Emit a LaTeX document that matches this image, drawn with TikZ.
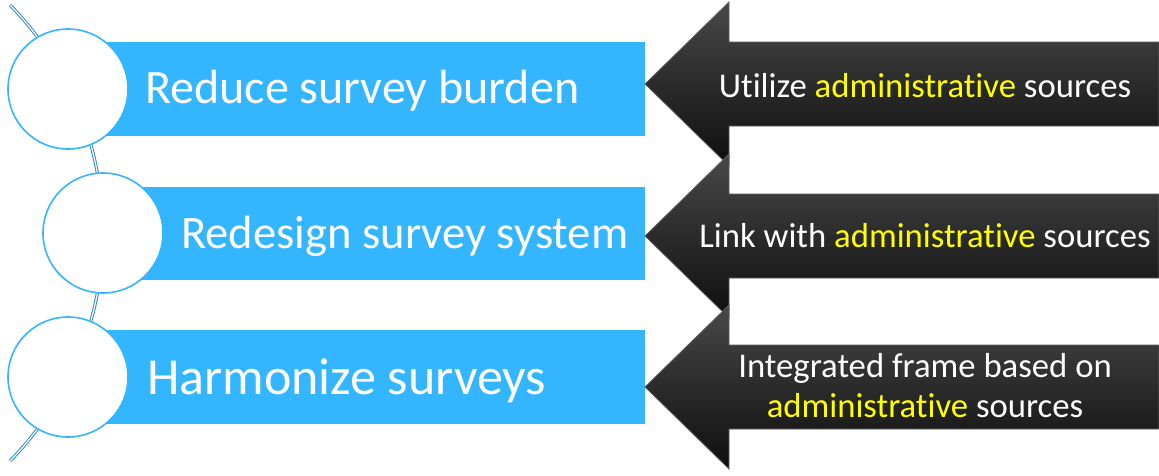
\documentclass[tikz,border=0pt]{standalone}
\usepackage{fontspec}
\setmainfont{Carlito}[Ligatures=NoCommon]
\definecolor{barblue}{RGB}{51,182,255}
\definecolor{arcblue}{RGB}{50,140,200}
\definecolor{hl}{RGB}{255,255,0}
\definecolor{atop}{RGB}{72,72,72}
\definecolor{abot}{RGB}{14,14,14}
\definecolor{aedge}{RGB}{95,95,95}
\newcommand\adm{\textcolor{hl}{administrative}}
\tikzset{
  bluebar/.style={fill=barblue, draw=none},
  ring/.style={circle, draw=barblue, line width=1.6pt, fill=white, minimum size=120pt, inner sep=0pt},
  darrow/.style={top color=atop, bottom color=abot, draw=aedge, line width=0.8pt, line join=miter},
  bartext/.style={anchor=base west, text=white, inner sep=0pt},
  arrowtext/.style={anchor=base, text=white, inner sep=0pt, font=\fontsize{34.7}{40}\selectfont},
  spine/.style={draw=arcblue, double=white, double distance=1.2pt, line width=1pt}
}
\begin{document}
\begin{tikzpicture}[x=1pt,y=-1pt]
\useasboundingbox[fill=white] (0,0) rectangle (1159,475);
% spine arc
\draw[spine] plot[domain=-44.4:44.4, samples=80] ({-223+326*cos(\x)}, {233+326*sin(\x)});
% blue bars
\path[bluebar] (68,42) rectangle (645,136);
\path[bluebar] (103,187) rectangle (645,280);
\path[bluebar] (68,330) rectangle (645,424);
% circles
\node[ring] (c1) at (68,89) {};
\node[ring] (c2) at (103,233) {};
\node[ring] (c3) at (68,377) {};
% bar texts
\node[bartext, font=\fontsize{48}{56}\selectfont] (t1) at (145,103) {Reduce survey burden};
\node[bartext, font=\fontsize{46.6}{55}\selectfont] (t2) at (181,248) {Redesign survey system};
\node[bartext, font=\fontsize{52}{60}\selectfont] (t3) at (147,394) {Harmonize surveys};
% arrows
\foreach \c/\n in {84/a1,236/a2,387/a3}{
  \draw[darrow] (645,\c) coordinate (\n tip) -- (729,\c-82) -- (729,\c-42) -- (1159,\c-42)
     -- (1159,\c+42) -- (729,\c+42) -- (729,\c+82) -- cycle;
}
% arrow texts
\node[arrowtext] (u1) at (925,97) {Utilize \adm{} sources};
\node[arrowtext] (u2) at (925,247) {Link with \adm{} sources};
\node[arrowtext] (u3a) at (925,377) {Integrated frame based on};
\node[arrowtext] (u3b) at (925,417) {\adm{} sources};
\end{tikzpicture}
\end{document}
